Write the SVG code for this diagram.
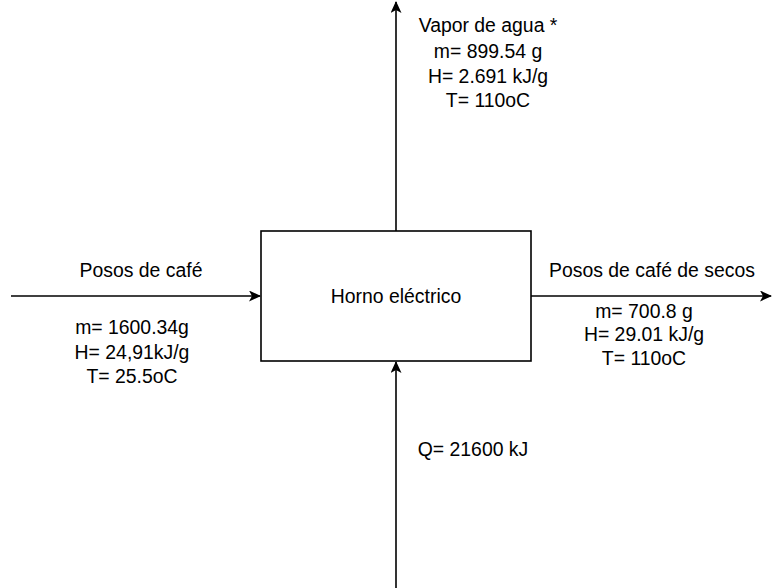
<svg xmlns="http://www.w3.org/2000/svg" width="772" height="588" viewBox="0 0 772 588">
<style>
text{font-family:"Liberation Sans",Arial,sans-serif;font-size:19.4px;fill:#000;text-anchor:middle;dominant-baseline:central}
.ln{stroke:#000;stroke-width:1.6;fill:none}
</style>
<defs>
<marker id="ah" viewBox="0 0 12 11" refX="11" refY="5.5" markerWidth="12" markerHeight="11" markerUnits="userSpaceOnUse" orient="auto">
<path d="M0,0 L12,5.5 L0,11 L3,5.5 Z" fill="#000"/>
</marker>
</defs>
<rect width="772" height="588" fill="#fff"/>
<g id="connectors">
<line class="ln" x1="396" y1="231" x2="396" y2="2" marker-end="url(#ah)"/>
<line class="ln" x1="11" y1="296" x2="260" y2="296" marker-end="url(#ah)"/>
<line class="ln" x1="531" y1="296" x2="771" y2="296" marker-end="url(#ah)"/>
<line class="ln" x1="396" y1="588" x2="396" y2="362" marker-end="url(#ah)"/>
</g>
<g id="horno">
<rect x="261" y="231" width="270" height="130" fill="#fff" stroke="#000" stroke-width="1.6"/>
<text x="396" y="296">Horno eléctrico</text>
</g>
<g id="vapor">
<text x="488" y="25">Vapor de agua *</text>
<text x="488" y="51">m= 899.54 g</text>
<text x="488" y="76">H= 2.691 kJ/g</text>
<text x="488" y="100">T= 110oC</text>
</g>
<g id="entrada">
<text x="141" y="270">Posos de café</text>
<text x="132" y="327">m= 1600.34g</text>
<text x="132" y="352">H= 24,91kJ/g</text>
<text x="132" y="376">T= 25.5oC</text>
</g>
<g id="salida">
<text x="652" y="270">Posos de café de secos</text>
<text x="644" y="311">m= 700.8 g</text>
<text x="644" y="334">H= 29.01 kJ/g</text>
<text x="644" y="358">T= 110oC</text>
</g>
<g id="calor">
<text x="473" y="449">Q= 21600 kJ</text>
</g>
</svg>
